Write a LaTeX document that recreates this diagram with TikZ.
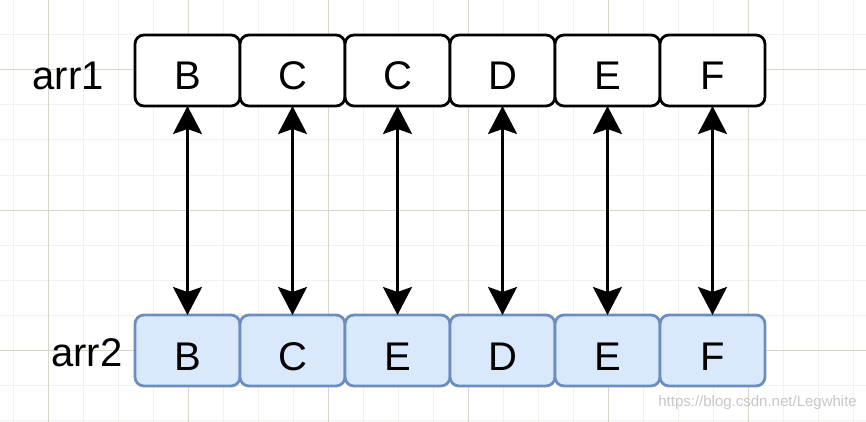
\documentclass[tikz,border=0pt]{standalone}
\usepackage{fontspec}
\setmainfont{Liberation Sans}
\usepackage{xcolor}
\usetikzlibrary{positioning}
\usetikzlibrary{arrows.meta}

\definecolor{gridminor}{HTML}{F2F2EC}
\definecolor{gridmajor}{HTML}{DAD7C8}
\definecolor{cellfill}{HTML}{DAE8FC}
\definecolor{celldraw}{HTML}{6C8EBF}

\tikzset{
  cell/.style={draw, fill=white, line width=2.8pt, rounded corners=9pt, minimum width=105pt, minimum height=71pt,
    inner sep=0pt, outer sep=0pt, text height=39pt, text depth=0pt, font=\fontsize{40}{44}\selectfont},
  bluecell/.style={cell, draw=celldraw, fill=cellfill},
  arrlabel/.style={inner sep=0pt, text depth=0pt, font=\fontsize{40}{44}\selectfont},
  link/.style={line width=2.8pt, {Stealth[length=28pt,width=29pt,inset=5pt]}-{Stealth[length=28pt,width=29pt,inset=5pt]}}
}

\begin{document}
\begin{tikzpicture}[x=1pt,y=-1pt]
\fill[white] (0,0) rectangle (866,422);
\useasboundingbox (0,0) rectangle (866,422);

% grid
\foreach \x in {0,...,24}
   \draw[gridminor, line width=1pt] (13+35*\x,0) -- (13+35*\x,422);
\foreach \y in {0,...,12}
   \draw[gridminor, line width=1pt] (0,35*\y) -- (866,35*\y);
\foreach \x in {0,...,5}
   \draw[gridmajor, line width=1pt] (48+140*\x,0) -- (48+140*\x,422);
\foreach \y in {0,1,2}
   \draw[gridmajor, line width=1pt] (0,70+140*\y) -- (866,70+140*\y);

% arr1
\node[cell] (t1) at (187.5,70.5) {B};
\node[cell, right=0pt of t1] (t2) {C};
\node[cell, right=0pt of t2] (t3) {C};
\node[cell, right=0pt of t3] (t4) {D};
\node[cell, right=0pt of t4] (t5) {E};
\node[cell, right=0pt of t5] (t6) {F};
\node[arrlabel, text height=38pt, left=31pt of t1] (arr1) {arr1};

% arr2
\node[bluecell] (b1) at (187.5,350.5) {B};
\node[bluecell, right=0pt of b1] (b2) {C};
\node[bluecell, right=0pt of b2] (b3) {E};
\node[bluecell, right=0pt of b3] (b4) {D};
\node[bluecell, right=0pt of b4] (b5) {E};
\node[bluecell, right=0pt of b5] (b6) {F};
\node[arrlabel, text height=31pt, left=12.5pt of b1] (arr2) {arr2};

\foreach \i in {1,...,6}
   \draw[link] (t\i.south) -- (b\i.north);

\node[inner sep=0pt, anchor=east, text=black!22, font=\fontsize{15}{15}\selectfont] (mark) at (857,403) {https://blog.csdn.net/Legwhite};

\end{tikzpicture}
\end{document}
